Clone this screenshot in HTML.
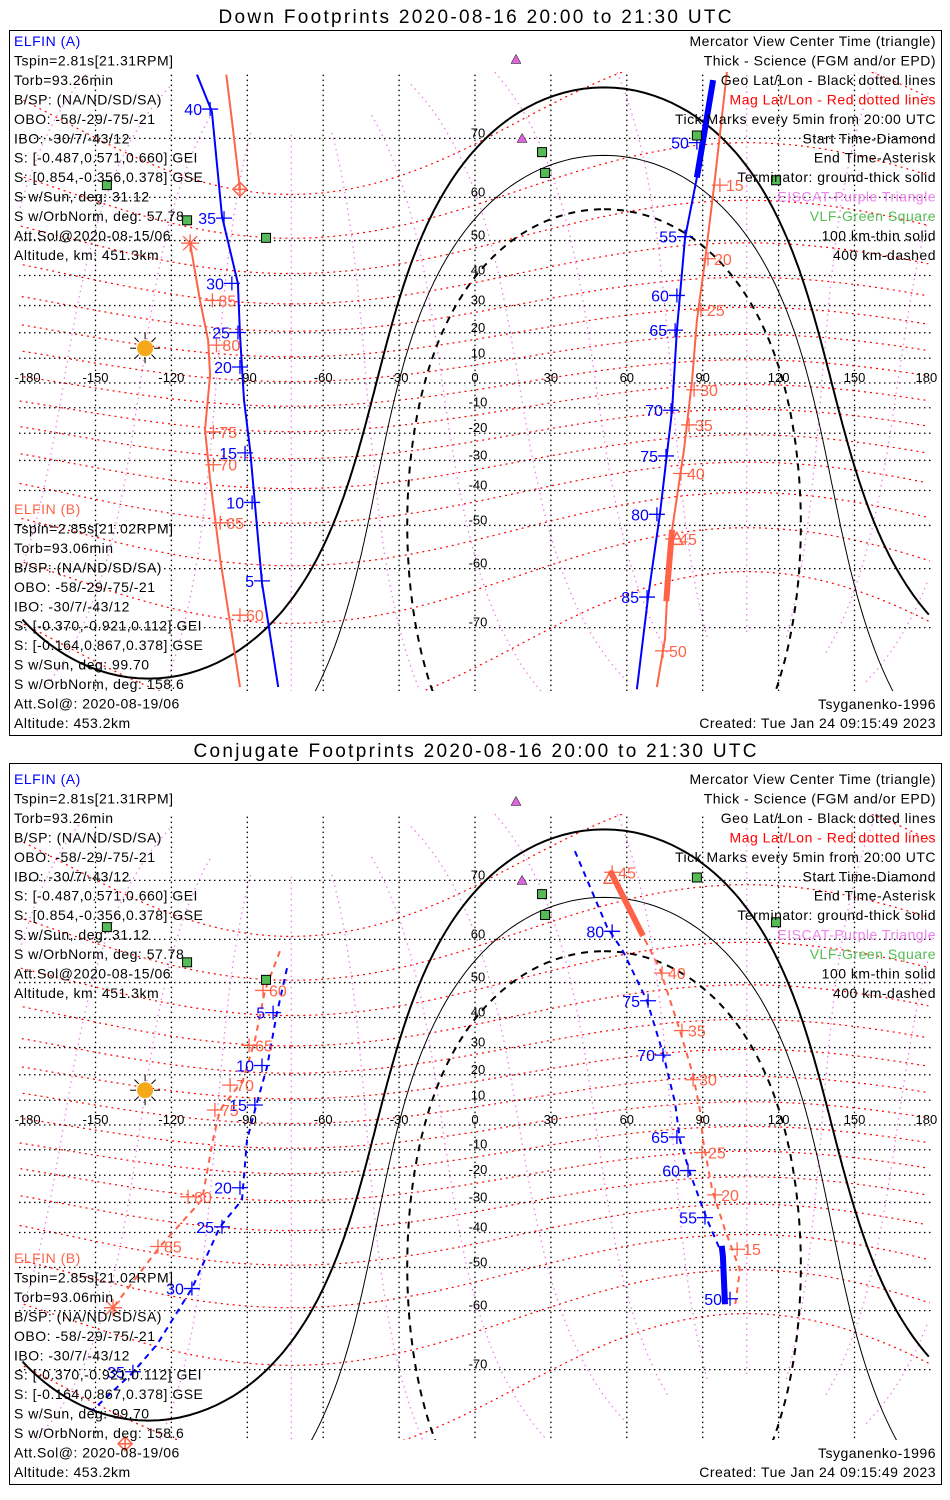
<!DOCTYPE html>
<html><head><meta charset="utf-8">
<style>
html,body{margin:0;padding:0;background:#fff;width:950px;height:1500px;overflow:hidden;}
svg{display:block;font-family:"Liberation Sans",sans-serif;}
</style></head>
<body>
<svg id="chart" width="950" height="1500" viewBox="0 0 950 1500" xmlns="http://www.w3.org/2000/svg">
<rect x="0" y="0" width="950" height="1500" fill="#fff"/>
<defs>
<clipPath id="clip0"><rect x="19" y="72" width="912" height="619"/></clipPath>
<clipPath id="clip1"><rect x="19" y="814" width="912" height="626"/></clipPath>
</defs>
<text x="475" y="23" text-anchor="middle" font-size="19" textLength="513">Down Footprints 2020-08-16 20:00 to 21:30 UTC</text>
<rect x="9.5" y="30.5" width="932" height="705" fill="none" stroke="#000"/>
<text x="475" y="757" text-anchor="middle" font-size="19" textLength="563">Conjugate Footprints 2020-08-16 20:00 to 21:30 UTC</text>
<rect x="9.5" y="763.5" width="932" height="721" fill="none" stroke="#000"/>
<g id="p0"></g>
<g id="p1"></g>
<g id="txt"></g>
</svg>
<script>
// ---- data (lon/lat in degrees) ----
const downA1_lon=[-109.9,-104.0,-100.0,-93.7,-92.9,-91.3,-88.9,-84.2,-77.8];
const downA1_lat=[77.2,73.4,55.9,37.5,19.1,-6.9,-26.2,-62.8,-76.8];
const downA2_lon=[94.1,87.7,83.0,79.8,77.9,73.1,68.4,64.0];
const downA2_lat=[76.7,63.8,50.6,21.0,-10.9,-47.0,-65.3,-77.0];
const downAsci_lon=[94.1,87.7];
const downAsci_lat=[76.7,63.8];
const downB1_lon=[-98.3,-96.0,-92.9];
const downB1_lat=[77.2,72.2,61.6];
const downB2_lon=[-112.6,-108.7,-105.5,-104.7,-106.7,-104.7,-100.7,-92.9];
const downB2_lat=[49.3,31.8,17.2,3.2,-18.7,-36.5,-58.0,-76.8];
const downB3_lon=[99.6,94.9,90.9,87.7,85.8,82.6,77.9,76.3,75.1,71.9];
const downB3_lat=[77.5,63.8,44.4,24.7,1.2,-26.2,-51.1,-61.9,-71.5,-76.8];
const downBsci_lon=[77.9,76.3,75.6];
const downBsci_lat=[-51.1,-61.9,-66.0];
const downA_tickLbl=[40,35,30,25,20,15,10,5,50,55,60,65,70,75,80,85];
const downA_tickLon=[-104.7,-99.2,-96.1,-93.7,-92.9,-90.9,-88.1,-84.2,87.7,83.0,79.8,79.1,77.5,75.5,71.9,68.0];
const downA_tickLat=[73.7,55.5,37.5,20.1,6.5,-27.3,-43.6,-62.4,69.4,51.0,33.5,21.0,-11,-28.4,-47,-65.3];
const downB_tickLbl=[85,80,75,70,65,60,15,20,25,30,35,40,45,50];
const downB_tickLon=[-103.8,-102.2,-103.4,-103.4,-100.7,-92.9,96.8,92.1,89.3,86.6,84.6,81.4,78.3,74.3];
const downB_tickLat=[31.8,15.2,-19.5,-31.5,-49.3,-68.2,62.4,45.0,28.4,-2.8,-16.8,-34.5,-53.4,-73.0];

const conjA1_lon=[-74.3,-78.3,-82.2,-86.2,-90.1,-92.1,-100.8,-111.9,-125.7,-135.2,-151.0];
const conjA1_lat=[53.6,41.3,22.9,8.9,-6.1,-29.1,-38.2,-55.2,-66.2,-70.4,-74.9];
const conjA2_lon=[39.5,52.2,58.5,68.0,74.3,79.1,81.0,85.0,91.7,98.0,98.8];
const conjA2_lat=[73.7,62.4,57.5,45.0,28.0,8.9,-6.1,-19.2,-35.8,-47.0,-58.7];
const conjAsci_lon=[97.5,98.0,98.8];
const conjAsci_lat=[-44.0,-47.0,-58.7];
const conjB1_lon=[-77.1,-83.0,-87.0,-91.7,-100.8,-103.6,-107.9,-124.5,-143.1];
const conjB1_lat=[57.5,47.9,32.5,18.0,6.1,-6.1,-29.1,-44.2,-59.4];
const conjB2_lon=[53.4,66.4,73.1,81.0,86.2,88.9,90.1,93.7,98.8,104.7,102.8];
const conjB2_lat=[71.3,60.7,53.4,35.8,19.9,6.1,-6.1,-25.4,-39.2,-50.6,-59.0];
const conjBsci_lon=[53.4,66.4];
const conjBsci_lat=[71.3,60.7];
const conjA_tickLbl=[5,10,15,20,25,30,35,80,75,70,65,60,55,50];
const conjA_tickLon=[-79.8,-84.2,-87.0,-92.9,-100.0,-111.9,-135.2,54.2,68.4,74.3,79.8,84.2,90.9,100.8];
const conjA_tickLat=[41.5,23.5,8.1,-24.7,-38.2,-55.2,-70.3,61.6,45.0,27.3,-4.9,-18.2,-35.2,-57.5];
const conjB_tickLbl=[60,65,70,75,80,85,45,40,35,30,25,20,15];
const conjB_tickLon=[-83.8,-89.3,-96.8,-102.8,-113.4,-125.3,54.2,73.9,81.8,86.2,89.7,94.9,103.6];
const conjB_tickLat=[47.9,30.8,16.0,6.1,-28.0,-44.2,71.1,52.4,35.8,18.1,-11.1,-27.3,-45.0];

const eiscat_lon=[16.2,18.6];
const eiscat_lat=[78.5,70.0];
const vlf_lon=[26.5,27.7,-145.5,-113.8,-82.6,87.7,119.0];
const vlf_lat=[68.0,64.6,62.4,55.0,50.7,70.4,63.3];
const sun_lon=[-130.4];
const sun_lat=[14.0];
const term_lon0=[-129.0];
const term_dec=[14.0];
const termAlt=[0,100,400];
const termDip=[0,8.5,18.5];
const geoLatTicks=[70,60,50,40,30,20,10,0,-10,-20,-30,-40,-50,-60,-70];
const geoLonTicks=[-180,-150,-120,-90,-60,-30,0,30,60,90,120,150,180];

// ---- projection ----
const R2D=180/Math.PI, D2R=Math.PI/180;
function X(lon){return 475+2.53*lon;}
function merc(lat){lat=Math.max(-81,Math.min(81,lat));return Math.log(Math.tan(Math.PI/4+lat*D2R/2))*R2D;}
function Y(lat,eq){return eq-2.46*merc(lat);}
const NS='http://www.w3.org/2000/svg';
function mk(tag,attrs,parent){const e=document.createElementNS(NS,tag);for(const k in attrs)e.setAttribute(k,attrs[k]);parent.appendChild(e);return e;}
function pathD(lons,lats,eq){let d='',prev=null;for(let i=0;i<lons.length;i++){const x=X(lons[i]),y=Y(lats[i],eq);if(prev===null||Math.abs(lons[i]-prev)>180)d+='M'+x.toFixed(1)+' '+y.toFixed(1);else d+='L'+x.toFixed(1)+' '+y.toFixed(1);prev=lons[i];}return d;}
function wrap(l){while(l>180)l-=360;while(l<-180)l+=360;return l;}
const PLAT=80.6,PLON=-72.6;
function mag2geo(ml,mo){const cl=Math.cos(ml*D2R);let x=cl*Math.cos(mo*D2R),y=cl*Math.sin(mo*D2R),z=Math.sin(ml*D2R);const th=(90-PLAT)*D2R;const x2=x*Math.cos(th)+z*Math.sin(th),z2=-x*Math.sin(th)+z*Math.cos(th);return [wrap(Math.atan2(y,x2)*R2D+PLON),Math.asin(Math.max(-1,Math.min(1,z2)))*R2D];}
function circle(lat1,lon1,r){const lo=[],la=[];const a=lat1*D2R,rr=r*D2R;for(let az=0;az<=360;az+=1){const b=az*D2R;const l2=Math.asin(Math.sin(a)*Math.cos(rr)+Math.cos(a)*Math.sin(rr)*Math.cos(b));const o2=lon1*D2R+Math.atan2(Math.sin(b)*Math.sin(rr)*Math.cos(a),Math.cos(rr)-Math.sin(a)*Math.sin(l2));lo.push(wrap(o2*R2D));la.push(l2*R2D);}return [lo,la];}

function drawPanel(id,eq,clip,segs,ticks,syms){
  const P=document.getElementById(id);
  const g=mk('g',{'clip-path':'url(#'+clip+')'},P);
  
  
  for(let mo=0;mo<360;mo+=30){const lo=[],la=[];for(let ml=-80;ml<=80;ml+=2){const p=mag2geo(ml,mo);lo.push(p[0]);la.push(p[1]);}
    const e=mk('path',{d:pathD(lo,la,eq),fill:'none',stroke:'#ee82ee','stroke-width':1.3,'stroke-dasharray':'1.5,4'},g);
    
    }
  for(let ml=-70;ml<=70;ml+=10){const lo=[],la=[];for(let mo=0;mo<=360;mo+=2){const p=mag2geo(ml,mo);lo.push(p[0]);la.push(p[1]);}
    const e=mk('path',{d:pathD(lo,la,eq),fill:'none',stroke:'#ff0000','stroke-width':1.2,'stroke-dasharray':'2,4'},g);
    
    }
  geoLatTicks.forEach(lat=>{const y=Y(lat,eq);const e=mk('line',{x1:19,x2:931,y1:y,y2:y,stroke:'#000','stroke-width':1.3,'stroke-dasharray':'1.5,3.5'},g);
    
    });
  geoLonTicks.forEach(lon=>{if(Math.abs(lon)==180)return;const x=X(lon);const e=mk('line',{x1:x,x2:x,y1:Y(80,eq),y2:Y(-80,eq),stroke:'#000','stroke-width':1.3,'stroke-dasharray':'1.5,3.5'},g);
    
    });
  termAlt.forEach((h,i)=>{const d=termDip[i];const c=circle(-term_dec[0],wrap(term_lon0[0]+180),90-d);
    const e=mk('path',{d:pathD(c[0],c[1],eq),fill:'none',stroke:'#000','stroke-width':h==0?2:(h==100?1:2),'stroke-dasharray':h==400?'7,6':'none'},g);
    
    });
  segs.forEach(s=>{const e=mk('path',{d:pathD(s.lon,s.lat,eq),fill:'none',stroke:s.c,'stroke-width':s.w,'stroke-dasharray':s.dash||'none'},g);
    
    });
  ticks.forEach(t=>{for(let i=0;i<t.lbl.length;i++){const x=X(t.lon[i]),y=Y(t.lat[i],eq);
    const tg=mk('g',{},g);
    
    
    mk('line',{x1:x-8,x2:x+8,y1:y,y2:y,stroke:t.c,'stroke-width':1.3},tg);
    mk('line',{x1:x,x2:x,y1:y-7,y2:y+7,stroke:t.c,'stroke-width':1.3},tg);
    const tx=mk('text',{x:t.left?x-8:x+6,y:y+6,'text-anchor':t.left?'end':'start','font-size':16,fill:t.c},tg);tx.textContent=t.lbl[i];}});
  for(let i=0;i<eiscat_lon.length;i++){const x=X(eiscat_lon[i]),y=Y(eiscat_lat[i],eq);const e=mk('path',{d:`M${x-5} ${y+4}L${x+5} ${y+4}L${x} ${y-5}Z`,fill:'#dd66dd',stroke:'#000','stroke-width':0.5},P);
    
    }
  for(let i=0;i<vlf_lon.length;i++){const x=X(vlf_lon[i]),y=Y(vlf_lat[i],eq);const e=mk('rect',{x:x-4.5,y:y-4.5,width:9,height:9,fill:'#55bb55',stroke:'#000','stroke-width':1},P);
    
    }
  const sx=X(sun_lon[0]),sy=Y(sun_lat[0],eq);const sg=mk('g',{},P);
  
  
  for(let a=0;a<360;a+=45){const r=a*D2R;mk('line',{x1:sx+9*Math.cos(r),y1:sy+9*Math.sin(r),x2:sx+15*Math.cos(r),y2:sy+15*Math.sin(r),stroke:'#000','stroke-width':1},sg);}
  mk('circle',{cx:sx,cy:sy,r:8,fill:'#f5a818'},sg);
  syms.forEach(s=>{const x=X(s.lon),y=Y(s.lat,eq);let e;
    if(s.k=='diamond'){e=mk('path',{d:`M${x-7} ${y}L${x} ${y-7}L${x+7} ${y}L${x} ${y+7}ZM${x-7} ${y}H${x+7}M${x} ${y-7}V${y+7}`,fill:'none',stroke:s.c,'stroke-width':1.5},P);}
    else if(s.k=='asterisk'){e=mk('path',{d:`M${x-9} ${y}H${x+9}M${x} ${y-9}V${y+9}M${x-7} ${y-7}L${x+7} ${y+7}M${x+7} ${y-7}L${x-7} ${y+7}`,fill:'none',stroke:s.c,'stroke-width':1.3},P);}
    else {e=mk('path',{d:`M${x-6} ${y+5}L${x+6} ${y+5}L${x} ${y-7}Z`,fill:'none',stroke:s.c,'stroke-width':1.5},P);}
    
    });
  geoLonTicks.forEach(lon=>{const e=mk('text',{x:X(lon)+(lon==-180?8:(lon==180?-4:0)),y:eq-1,'text-anchor':'middle','font-size':13},P);e.textContent=lon;
    
    });
  geoLatTicks.forEach(lat=>{if(lat==0)return;const e=mk('text',{x:X(0)+3,y:Y(lat,eq)-1,'text-anchor':'middle','font-size':13},P);e.textContent=lat;
    
    });
}
const BL='#0000ff',OR='#ff6347';
drawPanel('p0',383,'clip0',[
 {lon:downA1_lon,lat:downA1_lat,c:BL,w:2,n:'elfin-a-track'},
 {lon:downA2_lon,lat:downA2_lat,c:BL,w:2,n:'elfin-a-track-east'},
 {lon:downAsci_lon,lat:downAsci_lat,c:BL,w:6,n:'elfin-a-science'},
 {lon:downB1_lon,lat:downB1_lat,c:OR,w:2,n:'elfin-b-track-start'},
 {lon:downB2_lon,lat:downB2_lat,c:OR,w:2,n:'elfin-b-track'},
 {lon:downB3_lon,lat:downB3_lat,c:OR,w:2,n:'elfin-b-track-east'},
 {lon:downBsci_lon,lat:downBsci_lat,c:OR,w:6,n:'elfin-b-science'}],
 [{lbl:downA_tickLbl,lon:downA_tickLon,lat:downA_tickLat,c:BL,left:true},
  {lbl:downB_tickLbl,lon:downB_tickLon,lat:downB_tickLat,c:OR,left:false}],
 [{k:'diamond',lon:-92.9,lat:61.6,c:OR},{k:'asterisk',lon:-112.6,lat:49.3,c:OR},{k:'triangle',lon:79.8,lat:-53.5,c:OR}]);
drawPanel('p1',1125,'clip1',[
 {lon:conjA1_lon,lat:conjA1_lat,c:BL,w:2,dash:'6,5',n:'elfin-a-conj-track'},
 {lon:conjA2_lon,lat:conjA2_lat,c:BL,w:2,dash:'6,5',n:'elfin-a-conj-track-east'},
 {lon:conjAsci_lon,lat:conjAsci_lat,c:BL,w:6,n:'elfin-a-conj-science'},
 {lon:conjB1_lon,lat:conjB1_lat,c:OR,w:2,dash:'6,5',n:'elfin-b-conj-track'},
 {lon:conjB2_lon,lat:conjB2_lat,c:OR,w:2,dash:'6,5',n:'elfin-b-conj-track-east'},
 {lon:conjBsci_lon,lat:conjBsci_lat,c:OR,w:6,n:'elfin-b-conj-science'}],
 [{lbl:conjA_tickLbl,lon:conjA_tickLon,lat:conjA_tickLat,c:BL,left:true},
  {lbl:conjB_tickLbl,lon:conjB_tickLon,lat:conjB_tickLat,c:OR,left:false}],
 [{k:'diamond',lon:-138.3,lat:-78.1,c:OR},{k:'asterisk',lon:-143.1,lat:-59.4,c:OR},{k:'triangle',lon:53.4,lat:70.3,c:OR}]);

const T=document.getElementById('txt');
const infoA=['Tspin=2.81s[21.31RPM]','Torb=93.26min','B/SP: (NA/ND/SD/SA)','OBO: -58/-29/-75/-21','IBO: -30/7/-43/12','S: [-0.487,0.571,0.660] GEI','S: [0.854,-0.356,0.378] GSE','S w/Sun, deg: 31.12','S w/OrbNorm, deg: 57.78','Att.Sol@2020-08-15/06','Altitude, km: 451.3km'];
const infoB=['Tspin=2.85s[21.02RPM]','Torb=93.06min','B/SP: (NA/ND/SD/SA)','OBO: -58/-29/-75/-21','IBO: -30/7/-43/12','S: [-0.370,-0.921,0.112] GEI','S: [-0.164,0.867,0.378] GSE','S w/Sun, deg: 99.70','S w/OrbNorm, deg: 158.6','Att.Sol@: 2020-08-19/06','Altitude: 453.2km'];
const legend=[['Mercator View Center Time (triangle)','#000'],['Thick - Science (FGM and/or EPD)','#000'],['Geo Lat/Lon - Black dotted lines','#000'],['Mag Lat/Lon - Red dotted lines','#ff0000'],['Tick Marks every 5min from 20:00 UTC','#000'],['Start Time-Diamond','#000'],['End Time-Asterisk','#000'],['Terminator: ground-thick solid','#000'],['EISCAT-Purple Triangle','#ee82ee'],['VLF-Green Square','#55bb55'],['100 km-thin solid','#000'],['400 km-dashed','#000']];
function tx(x,y,s,c,anchor,name){const e=mk('text',{x:x,y:y,fill:c,'font-size':14,'letter-spacing':0.5,'text-anchor':anchor},T);e.textContent=s;
  
  }
const step=19.45;
[[0,0],[738,749]].forEach(([oa,ob])=>{
  tx(14,46+oa,'ELFIN (A)',BL,'start','elfin-a-header');
  infoA.forEach((s,i)=>tx(14,46+oa+step*(i+1),s,'#000','start','elfin-a-info'));
  tx(14,514+ob,'ELFIN (B)',OR,'start','elfin-b-header');
  infoB.forEach((s,i)=>tx(14,514+ob+step*(i+1),s,'#000','start','elfin-b-info'));
  legend.forEach((l,i)=>tx(936,46+oa+step*i,l[0],l[1],'end','legend-entry'));
  tx(936,709+ob,'Tsyganenko-1996','#000','end','model-label');
  tx(936,728+ob,'Created: Tue Jan 24 09:15:49 2023','#000','end','created-timestamp');
});
</script>
</body></html>
